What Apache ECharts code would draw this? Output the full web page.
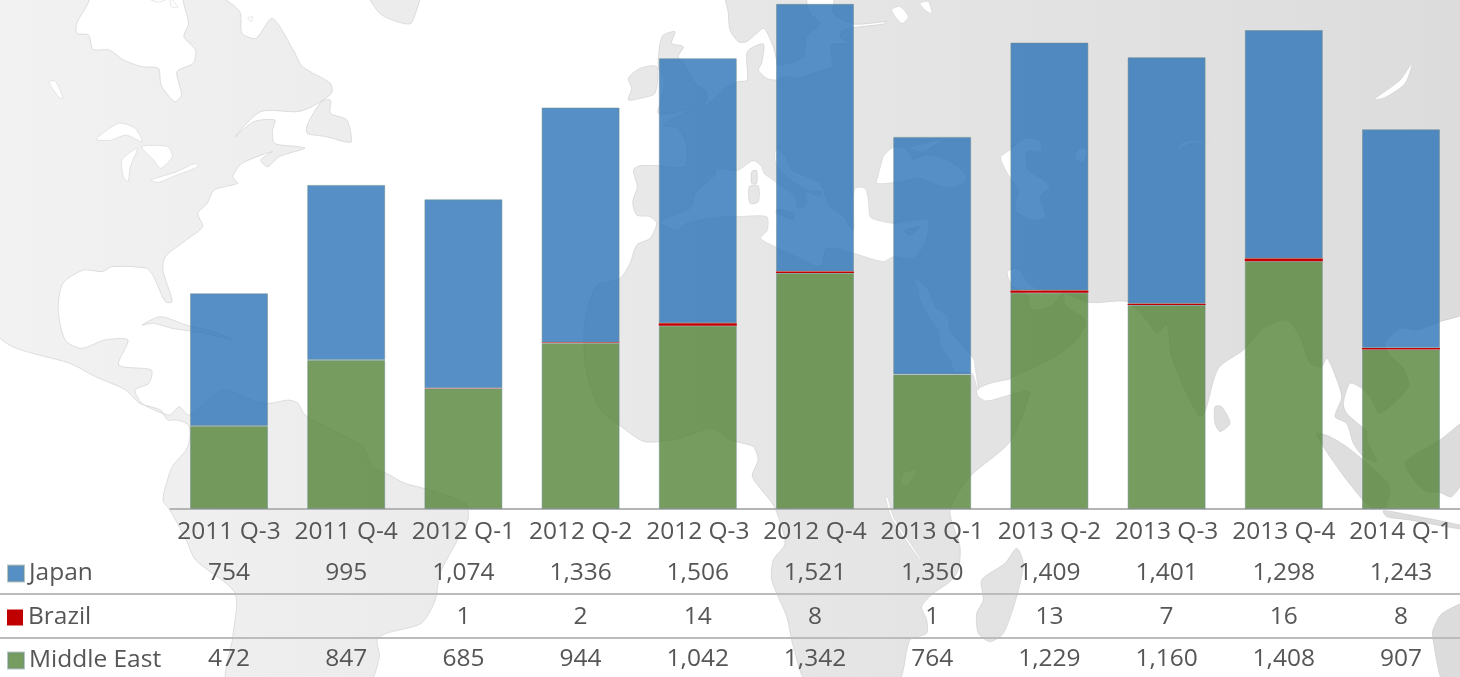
<!DOCTYPE html>
<html><head><meta charset="utf-8">
<style>html,body{margin:0;padding:0;background:#fff;overflow:hidden}#c{width:1460px;height:677px}</style>
<script src="https://cdn.jsdelivr.net/npm/echarts@6/dist/echarts.min.js"></script>
</head><body><div id="c"></div>
<script>
const categories = ['2011 Q-3','2011 Q-4','2012 Q-1','2012 Q-2','2012 Q-3','2012 Q-4','2013 Q-1','2013 Q-2','2013 Q-3','2013 Q-4','2014 Q-1'];
const japan = [754,995,1074,1336,1506,1521,1350,1409,1401,1298,1243];
const brazil = [null,null,1,2,14,8,1,13,7,16,8];
const middleEast = [472,847,685,944,1042,1342,764,1229,1160,1408,907];

// Decorative world-map backdrop outlines (no data here)
const view = (ox, oy, sx) => pts => pts.map(p => [ox + p[0] / sx, oy + p[1] / 3]);
const z2 = view(0, 0, 2.148), z3 = view(730, 0, 2.148), z4 = view(0, 340, 2.148), z5 = view(730, 340, 2.148);
const z6 = view(610, 0, 3), z7 = view(880, 100, 3), z8 = view(1150, 300, 3), z9 = view(760, 340, 3);

const landShapes = [
  // North + Central America
  [[-20,-20]].concat(z2([[190,-10],[165,70],[165,100],[190,105],[200,148],[235,150],[265,180],[305,200],[340,205],[345,250],[350,265],[375,305],[390,285],[380,215],[415,190],[420,150],[395,110],[405,70],[395,-10],[470,-10],[515,35],[520,100],[550,115],[585,55],[630,150],[650,200],[710,250],[712,280],[670,320],[640,335],[560,335],[505,410],[545,365],[590,360],[585,395],[590,430],[640,440],[655,445],[600,470],[575,500],[560,480],[585,455],[520,490],[500,530],[510,550],[460,570],[445,610],[425,640],[435,680],[400,720],[355,770],[350,810],[370,905],[355,905],[330,830],[315,805],[240,800],[220,815],[180,810],[135,850],[125,930],[140,1020]]),
    z4([[175,25],[225,0],[275,0],[255,75],[325,90],[320,130],[290,150],[305,190],[340,215],[365,225],[385,200],[405,225],[440,190],[480,150],[550,185],[580,190],[620,180],[640,190],[655,225],[720,275],[780,320],[800,380],[830,400],[870,430],[910,445],[1000,490],[1005,540],[975,620],[945,700],[935,780],[905,850],[830,880],[810,900],[815,950],[790,1030],[490,1030],[500,890],[505,760],[420,660],[400,600],[365,510],[350,480],[370,380],[400,330],[408,290],[405,255],[380,240],[360,240],[345,210],[300,190],[270,150],[205,110],[150,70],[20,15]]),
    [[-20,310]]),
  // Eurasia + Africa
  z6([[350,-30],[355,40],[360,90],[385,125],[410,125],[440,100],[462,85],[490,140],[497,170],[505,195],[535,190],[580,170],[590,110],[630,70],[600,40],[592,-10],[670,-10],[670,40],[730,72],[830,65],[820,72],[735,82],[700,90],[690,110],[720,130],[665,135],[665,200],[620,215],[560,235],[530,230],[497,240],[470,235],[445,210],[455,190],[460,132],[412,155],[412,240],[385,245],[350,262],[290,315],[250,330],[210,345],[160,375],[205,385],[230,440],[225,500],[145,497],[90,497],[70,510],[82,560],[68,605],[80,645],[120,650],[140,670],[120,715],[80,735],[60,790],[30,835]])
    .concat(z2([[1280,860],[1255,980]]),
      z4([[1260,100],[1290,210],[1330,255],[1385,305],[1460,295],[1530,265]]),
      z5([[0,300],[50,320],[60,360],[48,410],[95,500]]),
      z9([[75,610],[40,660],[35,720],[80,830],[100,920],[145,1030],[410,1030],[450,900],[500,880],[500,840],[485,800],[520,760],[570,725],[595,690],[600,620],[570,510],[630,410],[750,305],[810,160],[800,153],[750,165],[680,183],[655,170],[650,150],[690,130],[750,117]]),
      z7([[390,835],[465,800],[525,770],[580,730],[618,665],[555,615],[550,580],[510,620],[455,628],[440,585],[395,555],[382,515],[415,505],[445,550],[490,572],[550,578],[625,607],[720,603],[745,606],[800,660],[830,700],[860,675],[875,770],[920,880],[960,950]]),
      z8([[167,330],[205,205],[280,150],[340,85],[410,60],[450,110],[480,190],[515,200],[530,175],[545,200],[575,290],[555,350],[590,370],[610,430],[640,470],[680,485],[650,420],[650,395],[590,340],[580,310],[600,250],[635,265],[660,290],[690,340],[775,260],[760,205],[720,165],[705,130],[750,85],[800,90],[870,65],[950,30]]),
      [[1480,-20]]),
  z2([[795,-10],[820,45],[880,72],[895,30],[900,-10]]),
  z2([[660,375],[690,305],[710,300],[710,340],[745,360],[755,425],[740,425],[700,410],[660,400]]),
  z2([[305,975],[345,950],[400,975],[470,1000],[500,1020],[440,1000],[370,985],[330,970]]),
  z6([[150,130],[160,105],[195,95],[185,130],[220,140],[205,170],[225,195],[255,250],[290,275],[285,310],[230,330],[145,340],[155,295],[165,240],[145,205]]),
  z6([[55,235],[90,205],[140,200],[135,280],[90,295],[55,300],[65,265]]),
  z9([[770,625],[790,670],[770,770],[730,880],[690,905],[655,880],[650,820],[670,780],[665,720],[735,670]]),
  z8([[195,320],[215,320],[240,370],[210,395],[195,370]]),
  z8([[500,400],[540,410],[590,440],[640,480],[710,545],[720,570],[705,625],[660,620],[590,540],[520,440]]),
  z8([[765,490],[810,455],[870,420],[950,365],[950,520],[905,590],[870,578],[830,575],[800,550]]),
  z8([[700,632],[780,645],[950,680],[950,690],[780,660],[710,650]]),
  z5([[1590,790],[1530,820],[1510,870],[1510,900],[1535,1040],[1590,1040]])
];
const waterShapes = [
  z2([[207,418],[255,370],[290,385],[305,425],[270,405],[240,420]]),
  z2([[265,530],[262,480],[295,445],[280,500],[275,545]]),
  z2([[305,440],[360,440],[370,470],[345,505],[330,480]]),
  z2([[325,540],[380,515],[420,490],[425,500],[380,525],[340,547]]),
  z2([[105,245],[120,245],[135,295],[125,290]]),
  z2([[318,-5],[340,6],[362,-5]]),
  z2([[366,-5],[382,22],[368,20]]),
  z2([[532,55],[542,50],[540,65]]),
  // Mediterranean
  z6([[150,665],[240,625],[255,580],[315,525],[320,505],[380,512],[430,482],[455,500],[462,520],[497,545],[555,590],[565,625],[590,610],[585,575],[630,590],[635,575],[590,570],[530,530],[497,490],[497,450],[520,460],[545,510],[590,530],[632,552],[650,600],[660,620],[700,650],[730,690],[730,620],[735,565],[765,565],[775,600],[780,650],[800,660],[850,670],[885,665],[955,660],[945,730],[910,775],[850,770],[820,785],[730,760],[650,745],[630,800],[560,770],[495,740],[452,715],[472,690],[470,650],[380,650],[330,650],[230,670],[200,690]]),
  // Black Sea, Azov, Caspian, Aral
  z7([[-5,225],[0,205],[10,170],[35,145],[60,140],[80,150],[100,178],[140,165],[190,175],[240,205],[260,235],[225,262],[170,255],[120,235],[60,245],[-10,250]]),
  z7([[85,145],[135,130],[190,115],[130,155]]),
  z7([[362,172],[390,150],[440,115],[480,125],[482,155],[440,155],[445,210],[490,240],[510,260],[480,290],[497,350],[460,360],[405,330],[415,270],[385,225]]),
  z7([[585,175],[600,145],[620,150],[610,185]]),
  // Red Sea
  z7([[80,510],[110,555],[120,600],[145,650],[175,690],[180,735],[210,780],[225,815],[275,820],[290,860],[295,870],[285,800],[280,775],[250,740],[210,690],[205,650],[170,625],[145,570],[125,548],[85,520]]),
  // Ladoga, Onega, Baikal, Balkhash, African lakes
  z6([[845,30],[870,20],[895,50],[875,70]]),
  z6([[930,10],[955,5],[965,40],[945,30]]),
  z3([[1385,298],[1440,240],[1465,190],[1450,250],[1410,290]]),
  z3([[960,455],[975,425],[1030,425],[985,432]]),
  z9([[430,400],[470,390],[445,435],[425,435]]),
  z9([[376,470],[384,475],[400,530],[485,660],[480,660],[395,535]])
];
const islandShapes = [
  z6([[425,515],[440,512],[440,550],[425,550]]),
  z6([[418,560],[445,558],[445,605],[420,610]]),
  z6([[500,628],[550,640],[550,658],[500,640]]),
  z6([[885,692],[930,680],[900,706]])
];

const landFill = { type:'linear', global:true, x:0, y:0, x2:1460, y2:0,
  colorStops:[{offset:0,color:'#f2f2f2'},{offset:1,color:'#dcdcdc'}] };
const polygon = (pts, fill, stroke) => ({ type:'polygon', silent:true, shape:{points:pts, smooth:0.25},
  style:{fill:fill, stroke:stroke, lineWidth:0.5} });
const rule = y => ({ type:'line', silent:true, shape:{x1:0,y1:y,x2:1460,y2:y}, style:{stroke:'#bcbcbc',lineWidth:2} });

const textGrey = '#565656', fontFace = '"Open Sans", "Noto Sans", sans-serif', fontPx = 24.5;
const fmt = v => v === null ? '' : v.toLocaleString('en-US');
const rowAxis = (values, offset) => ({
  type:'category', position:'bottom', offset:offset, data:values.map(fmt),
  axisLine:{show:false}, axisTick:{show:false}, splitLine:{show:false},
  axisLabel:{interval:0, margin:0, color:textGrey, fontFamily:fontFace, fontSize:fontPx, hideOverlap:false}
});
const edge = { borderColor:'rgba(110,140,140,.5)', borderWidth:1 };
const barSeries = (name, values, color, style, z) => ({
  name:name, type:'bar', stack:'total', data:values, barWidth:78, z:z,
  itemStyle:Object.assign({color:color}, style), emphasis:{disabled:true}, animation:false
});
const legendRow = (name, top) => ({ orient:'vertical', left:2, top:top, itemWidth:16, itemHeight:16, selectedMode:false,
  icon:'rect', data:[name], textStyle:{color:textGrey, fontFamily:fontFace, fontSize:fontPx} });

const chart = echarts.init(document.getElementById('c'), null, {renderer:'canvas'});
chart.setOption({
  animation:false,
  backgroundColor:'#ffffff',
  grid:{left:170.4, top:0, width:1289.2, height:509, containLabel:false},
  graphic:{elements:[]
    .concat(landShapes.map(p => polygon(p, landFill, '#c2c2c2')))
    .concat(waterShapes.map(p => polygon(p, '#ffffff', '#cccccc')))
    .concat(islandShapes.map(p => polygon(p, landFill, '#c2c2c2')))
    .concat([rule(594), rule(638)])},
  legend:[legendRow('Japan',556), legendRow('Brazil',600), legendRow('Middle East',643)],
  xAxis:[
    { type:'category', data:categories, position:'bottom',
      axisLine:{show:true, lineStyle:{color:'#b4b4b4', width:2}}, axisTick:{show:false},
      axisLabel:{interval:0, margin:11, color:textGrey, fontFamily:fontFace, fontSize:fontPx, hideOverlap:false} },
    rowAxis(japan, 52),
    rowAxis(brazil, 96),
    rowAxis(middleEast, 138)
  ],
  yAxis:{type:'value', min:0, max:2893, show:false, splitLine:{show:false}},
  series:[
    barSeries('Middle East', middleEast, 'rgba(84,131,55,.8)', edge, 3),
    barSeries('Brazil', brazil, '#c00000', {}, 4),
    barSeries('Japan', japan, 'rgba(42,115,182,.8)', edge, 2)
  ]
});
</script></body></html>
